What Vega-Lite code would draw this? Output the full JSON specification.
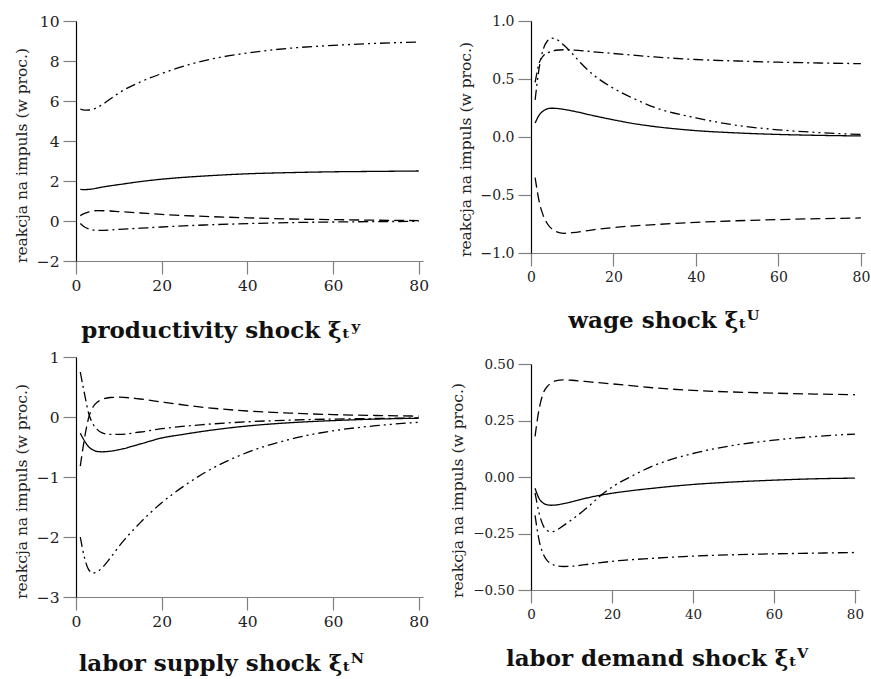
{
"$schema": "https://vega.github.io/schema/vega-lite/v6.json",
"padding": {"left": 14, "top": 14, "right": 0, "bottom": 0},
"background": "white",
"config": {
 "font": "DejaVu Serif",
 "view": {"stroke": null},
 "axis": {"grid": false, "tickColor": "#808080", "tickSize": 13, "tickWidth": 1.2, "domainWidth": 1.2, "labelFont": "DejaVu Serif", "titleFont": "DejaVu Serif", "labelColor": "#222", "titleFontWeight": "normal", "titleColor": "#222", "labelFlush": false, "labelPadding": 4},
 "axisX": {"domainColor": "#808080"},
 "axisY": {"domainColor": "#000000"},
 "title": {"font": "DejaVu Serif", "fontSize": 23, "fontWeight": "bold", "color": "#111", "orient": "bottom", "anchor": "middle", "frame": "bounds"},
 "line": {"color": "#000000", "strokeWidth": 1.3, "interpolate": "monotone"}
},
"datasets": {
 "prod": [
  {"t":1,"s":"solid","v":1.58},{"t":2,"s":"solid","v":1.57},{"t":3,"s":"solid","v":1.58},{"t":4,"s":"solid","v":1.61},{"t":6,"s":"solid","v":1.69},{"t":8,"s":"solid","v":1.76},{"t":10,"s":"solid","v":1.82},{"t":15,"s":"solid","v":1.97},{"t":20,"s":"solid","v":2.09},{"t":25,"s":"solid","v":2.18},{"t":30,"s":"solid","v":2.25},{"t":40,"s":"solid","v":2.36},{"t":50,"s":"solid","v":2.42},{"t":60,"s":"solid","v":2.46},{"t":70,"s":"solid","v":2.48},{"t":80,"s":"solid","v":2.5},
  {"t":1,"s":"dash","v":0.27},{"t":2,"s":"dash","v":0.38},{"t":3,"s":"dash","v":0.46},{"t":5,"s":"dash","v":0.52},{"t":8,"s":"dash","v":0.5},{"t":10,"s":"dash","v":0.47},{"t":15,"s":"dash","v":0.4},{"t":20,"s":"dash","v":0.33},{"t":30,"s":"dash","v":0.23},{"t":40,"s":"dash","v":0.16},{"t":50,"s":"dash","v":0.1},{"t":60,"s":"dash","v":0.07},{"t":70,"s":"dash","v":0.04},{"t":80,"s":"dash","v":0.02},
  {"t":1,"s":"dashdot","v":-0.12},{"t":2,"s":"dashdot","v":-0.3},{"t":3,"s":"dashdot","v":-0.4},{"t":5,"s":"dashdot","v":-0.47},{"t":8,"s":"dashdot","v":-0.45},{"t":10,"s":"dashdot","v":-0.42},{"t":15,"s":"dashdot","v":-0.36},{"t":20,"s":"dashdot","v":-0.3},{"t":30,"s":"dashdot","v":-0.2},{"t":40,"s":"dashdot","v":-0.13},{"t":50,"s":"dashdot","v":-0.08},{"t":60,"s":"dashdot","v":-0.05},{"t":70,"s":"dashdot","v":-0.03},{"t":80,"s":"dashdot","v":-0.02},
  {"t":1,"s":"dashdotdot","v":5.6},{"t":2,"s":"dashdotdot","v":5.54},{"t":3,"s":"dashdotdot","v":5.55},{"t":5,"s":"dashdotdot","v":5.68},{"t":8,"s":"dashdotdot","v":6.1},{"t":10,"s":"dashdotdot","v":6.4},{"t":15,"s":"dashdotdot","v":6.95},{"t":20,"s":"dashdotdot","v":7.37},{"t":25,"s":"dashdotdot","v":7.73},{"t":30,"s":"dashdotdot","v":8.02},{"t":40,"s":"dashdotdot","v":8.4},{"t":50,"s":"dashdotdot","v":8.64},{"t":60,"s":"dashdotdot","v":8.78},{"t":70,"s":"dashdotdot","v":8.88},{"t":80,"s":"dashdotdot","v":8.95}
 ],
 "wage": [
  {"t":1,"s":"solid","v":0.12},{"t":2,"s":"solid","v":0.19},{"t":3,"s":"solid","v":0.225},{"t":4,"s":"solid","v":0.243},{"t":5,"s":"solid","v":0.248},{"t":6,"s":"solid","v":0.247},{"t":8,"s":"solid","v":0.238},{"t":10,"s":"solid","v":0.225},{"t":15,"s":"solid","v":0.185},{"t":20,"s":"solid","v":0.148},{"t":25,"s":"solid","v":0.115},{"t":30,"s":"solid","v":0.09},{"t":40,"s":"solid","v":0.055},{"t":50,"s":"solid","v":0.035},{"t":60,"s":"solid","v":0.022},{"t":70,"s":"solid","v":0.014},{"t":80,"s":"solid","v":0.009},
  {"t":1,"s":"dash","v":-0.35},{"t":2,"s":"dash","v":-0.56},{"t":3,"s":"dash","v":-0.68},{"t":4,"s":"dash","v":-0.75},{"t":5,"s":"dash","v":-0.79},{"t":6,"s":"dash","v":-0.815},{"t":8,"s":"dash","v":-0.83},{"t":10,"s":"dash","v":-0.825},{"t":15,"s":"dash","v":-0.8},{"t":20,"s":"dash","v":-0.78},{"t":30,"s":"dash","v":-0.755},{"t":40,"s":"dash","v":-0.736},{"t":50,"s":"dash","v":-0.722},{"t":60,"s":"dash","v":-0.712},{"t":70,"s":"dash","v":-0.704},{"t":80,"s":"dash","v":-0.698},
  {"t":1,"s":"dashdot","v":0.47},{"t":2,"s":"dashdot","v":0.64},{"t":3,"s":"dashdot","v":0.7},{"t":4,"s":"dashdot","v":0.725},{"t":5,"s":"dashdot","v":0.74},{"t":6,"s":"dashdot","v":0.748},{"t":8,"s":"dashdot","v":0.752},{"t":10,"s":"dashdot","v":0.75},{"t":15,"s":"dashdot","v":0.735},{"t":20,"s":"dashdot","v":0.72},{"t":30,"s":"dashdot","v":0.69},{"t":40,"s":"dashdot","v":0.668},{"t":50,"s":"dashdot","v":0.655},{"t":60,"s":"dashdot","v":0.645},{"t":70,"s":"dashdot","v":0.638},{"t":80,"s":"dashdot","v":0.632},
  {"t":1,"s":"dashdotdot","v":0.32},{"t":2,"s":"dashdotdot","v":0.6},{"t":3,"s":"dashdotdot","v":0.76},{"t":4,"s":"dashdotdot","v":0.83},{"t":5,"s":"dashdotdot","v":0.852},{"t":6,"s":"dashdotdot","v":0.845},{"t":8,"s":"dashdotdot","v":0.79},{"t":10,"s":"dashdotdot","v":0.72},{"t":12,"s":"dashdotdot","v":0.64},{"t":15,"s":"dashdotdot","v":0.54},{"t":20,"s":"dashdotdot","v":0.42},{"t":25,"s":"dashdotdot","v":0.33},{"t":30,"s":"dashdotdot","v":0.255},{"t":40,"s":"dashdotdot","v":0.165},{"t":50,"s":"dashdotdot","v":0.1},{"t":60,"s":"dashdotdot","v":0.062},{"t":70,"s":"dashdotdot","v":0.038},{"t":80,"s":"dashdotdot","v":0.022}
 ],
 "supply": [
  {"t":1,"s":"solid","v":-0.27},{"t":2,"s":"solid","v":-0.4},{"t":3,"s":"solid","v":-0.5},{"t":4,"s":"solid","v":-0.55},{"t":5,"s":"solid","v":-0.575},{"t":6,"s":"solid","v":-0.58},{"t":8,"s":"solid","v":-0.57},{"t":10,"s":"solid","v":-0.545},{"t":15,"s":"solid","v":-0.45},{"t":20,"s":"solid","v":-0.35},{"t":25,"s":"solid","v":-0.29},{"t":30,"s":"solid","v":-0.235},{"t":40,"s":"solid","v":-0.15},{"t":50,"s":"solid","v":-0.095},{"t":60,"s":"solid","v":-0.06},{"t":70,"s":"solid","v":-0.035},{"t":80,"s":"solid","v":-0.02},
  {"t":1,"s":"dash","v":-0.82},{"t":2,"s":"dash","v":-0.35},{"t":3,"s":"dash","v":0.0},{"t":4,"s":"dash","v":0.17},{"t":5,"s":"dash","v":0.25},{"t":6,"s":"dash","v":0.29},{"t":8,"s":"dash","v":0.325},{"t":10,"s":"dash","v":0.33},{"t":15,"s":"dash","v":0.3},{"t":20,"s":"dash","v":0.25},{"t":30,"s":"dash","v":0.16},{"t":40,"s":"dash","v":0.1},{"t":50,"s":"dash","v":0.065},{"t":60,"s":"dash","v":0.04},{"t":70,"s":"dash","v":0.025},{"t":80,"s":"dash","v":0.015},
  {"t":1,"s":"dashdot","v":0.75},{"t":2,"s":"dashdot","v":0.38},{"t":3,"s":"dashdot","v":0.05},{"t":4,"s":"dashdot","v":-0.12},{"t":5,"s":"dashdot","v":-0.21},{"t":6,"s":"dashdot","v":-0.26},{"t":8,"s":"dashdot","v":-0.29},{"t":10,"s":"dashdot","v":-0.29},{"t":15,"s":"dashdot","v":-0.25},{"t":20,"s":"dashdot","v":-0.195},{"t":30,"s":"dashdot","v":-0.125},{"t":40,"s":"dashdot","v":-0.08},{"t":50,"s":"dashdot","v":-0.052},{"t":60,"s":"dashdot","v":-0.035},{"t":70,"s":"dashdot","v":-0.025},{"t":80,"s":"dashdot","v":-0.015},
  {"t":1,"s":"dashdotdot","v":-2.0},{"t":2,"s":"dashdotdot","v":-2.35},{"t":3,"s":"dashdotdot","v":-2.55},{"t":4,"s":"dashdotdot","v":-2.6},{"t":5,"s":"dashdotdot","v":-2.58},{"t":6,"s":"dashdotdot","v":-2.52},{"t":8,"s":"dashdotdot","v":-2.35},{"t":10,"s":"dashdotdot","v":-2.16},{"t":15,"s":"dashdotdot","v":-1.76},{"t":20,"s":"dashdotdot","v":-1.43},{"t":25,"s":"dashdotdot","v":-1.16},{"t":30,"s":"dashdotdot","v":-0.93},{"t":40,"s":"dashdotdot","v":-0.59},{"t":50,"s":"dashdotdot","v":-0.37},{"t":60,"s":"dashdotdot","v":-0.23},{"t":70,"s":"dashdotdot","v":-0.145},{"t":80,"s":"dashdotdot","v":-0.088}
 ],
 "demand": [
  {"t":1,"s":"solid","v":-0.05},{"t":2,"s":"solid","v":-0.095},{"t":3,"s":"solid","v":-0.115},{"t":4,"s":"solid","v":-0.123},{"t":5,"s":"solid","v":-0.125},{"t":6,"s":"solid","v":-0.124},{"t":8,"s":"solid","v":-0.118},{"t":10,"s":"solid","v":-0.11},{"t":15,"s":"solid","v":-0.088},{"t":20,"s":"solid","v":-0.072},{"t":25,"s":"solid","v":-0.06},{"t":30,"s":"solid","v":-0.05},{"t":40,"s":"solid","v":-0.033},{"t":50,"s":"solid","v":-0.022},{"t":60,"s":"solid","v":-0.014},{"t":70,"s":"solid","v":-0.008},{"t":80,"s":"solid","v":-0.005},
  {"t":1,"s":"dash","v":0.18},{"t":2,"s":"dash","v":0.3},{"t":3,"s":"dash","v":0.37},{"t":4,"s":"dash","v":0.4},{"t":5,"s":"dash","v":0.415},{"t":6,"s":"dash","v":0.425},{"t":8,"s":"dash","v":0.43},{"t":10,"s":"dash","v":0.428},{"t":15,"s":"dash","v":0.42},{"t":20,"s":"dash","v":0.412},{"t":30,"s":"dash","v":0.395},{"t":40,"s":"dash","v":0.383},{"t":50,"s":"dash","v":0.376},{"t":60,"s":"dash","v":0.371},{"t":70,"s":"dash","v":0.367},{"t":80,"s":"dash","v":0.364},
  {"t":1,"s":"dashdot","v":-0.17},{"t":2,"s":"dashdot","v":-0.28},{"t":3,"s":"dashdot","v":-0.34},{"t":4,"s":"dashdot","v":-0.37},{"t":5,"s":"dashdot","v":-0.383},{"t":6,"s":"dashdot","v":-0.392},{"t":8,"s":"dashdot","v":-0.396},{"t":10,"s":"dashdot","v":-0.395},{"t":15,"s":"dashdot","v":-0.384},{"t":20,"s":"dashdot","v":-0.373},{"t":30,"s":"dashdot","v":-0.36},{"t":40,"s":"dashdot","v":-0.35},{"t":50,"s":"dashdot","v":-0.344},{"t":60,"s":"dashdot","v":-0.34},{"t":70,"s":"dashdot","v":-0.337},{"t":80,"s":"dashdot","v":-0.334},
  {"t":1,"s":"dashdotdot","v":-0.07},{"t":2,"s":"dashdotdot","v":-0.16},{"t":3,"s":"dashdotdot","v":-0.215},{"t":4,"s":"dashdotdot","v":-0.237},{"t":5,"s":"dashdotdot","v":-0.243},{"t":6,"s":"dashdotdot","v":-0.238},{"t":8,"s":"dashdotdot","v":-0.215},{"t":10,"s":"dashdotdot","v":-0.19},{"t":15,"s":"dashdotdot","v":-0.118},{"t":17,"s":"dashdotdot","v":-0.085},{"t":20,"s":"dashdotdot","v":-0.045},{"t":25,"s":"dashdotdot","v":0.005},{"t":30,"s":"dashdotdot","v":0.048},{"t":40,"s":"dashdotdot","v":0.104},{"t":50,"s":"dashdotdot","v":0.14},{"t":60,"s":"dashdotdot","v":0.163},{"t":70,"s":"dashdotdot","v":0.179},{"t":80,"s":"dashdotdot","v":0.19}
 ]
},
"spacing": 21,
"hconcat": [
 {
  "columns": 1,
  "align": "none",
  "spacing": 7,
  "concat": [
   {
    "width": 347, "height": 240,
    "data": {"name": "prod"},
    "mark": {"type": "line"},
    "encoding": {
     "x": {"field": "t", "type": "quantitative", "scale": {"domain": [0, 81], "nice": false}, "axis": {"values": [0, 20, 40, 60, 80], "title": null, "labelFontSize": 15.5}},
     "y": {"field": "v", "type": "quantitative", "scale": {"domain": [-2, 10], "nice": false, "zero": false}, "axis": {"values": [-2, 0, 2, 4, 6, 8, 10], "title": "reakcja na impuls (w proc.)", "labelFontSize": 15.5, "titleFontSize": 15.5, "titlePadding": 7, "titleY": 134}},
     "detail": {"field": "s"},
     "strokeDash": {"field": "s", "type": "nominal", "legend": null, "scale": {"domain": ["solid", "dash", "dashdot", "dashdotdot"], "range": [[1, 0], [10, 5], [10, 4, 2, 4], [10, 4, 2, 4, 2, 4]]}}
    },
    "title": {"text": "productivity shock ξₜʸ", "offset": 26}
   },
   {
    "width": 347, "height": 240,
    "data": {"name": "supply"},
    "mark": {"type": "line"},
    "encoding": {
     "x": {"field": "t", "type": "quantitative", "scale": {"domain": [0, 81], "nice": false}, "axis": {"values": [0, 20, 40, 60, 80], "title": null, "labelFontSize": 15.5}},
     "y": {"field": "v", "type": "quantitative", "scale": {"domain": [-3, 1], "nice": false, "zero": false}, "axis": {"values": [-3, -2, -1, 0, 1], "title": "reakcja na impuls (w proc.)", "labelFontSize": 15.5, "titleFontSize": 15.5, "titlePadding": 7, "titleY": 134}},
     "detail": {"field": "s"},
     "strokeDash": {"field": "s", "type": "nominal", "legend": null, "scale": {"domain": ["solid", "dash", "dashdot", "dashdotdot"], "range": [[1, 0], [10, 5], [10, 4, 2, 4], [10, 4, 2, 4, 2, 4]]}}
    },
    "title": {"text": "labor supply shock ξₜᴺ", "offset": 23}
   }
  ]
 },
 {
  "columns": 1,
  "align": "none",
  "spacing": 24,
  "concat": [
   {
    "width": 334, "height": 232,
    "data": {"name": "wage"},
    "mark": {"type": "line"},
    "encoding": {
     "x": {"field": "t", "type": "quantitative", "scale": {"domain": [0, 81], "nice": false}, "axis": {"values": [0, 20, 40, 60, 80], "title": null, "labelFontSize": 14}},
     "y": {"field": "v", "type": "quantitative", "scale": {"domain": [-1, 1], "nice": false, "zero": false}, "axis": {"values": [-1, -0.5, 0, 0.5, 1], "format": ".1f", "title": "reakcja na impuls (w proc.)", "labelFontSize": 14, "titleFontSize": 15.5, "titlePadding": 7, "titleY": 128}},
     "detail": {"field": "s"},
     "strokeDash": {"field": "s", "type": "nominal", "legend": null, "scale": {"domain": ["solid", "dash", "dashdot", "dashdotdot"], "range": [[1, 0], [10, 5], [10, 4, 2, 4], [10, 4, 2, 4, 2, 4]]}}
    },
    "title": {"text": "wage shock ξₜᵂ", "offset": 26}
   },
   {
    "width": 328, "height": 226,
    "data": {"name": "demand"},
    "mark": {"type": "line"},
    "encoding": {
     "x": {"field": "t", "type": "quantitative", "scale": {"domain": [0, 81], "nice": false}, "axis": {"values": [0, 20, 40, 60, 80], "title": null, "labelFontSize": 13.5}},
     "y": {"field": "v", "type": "quantitative", "scale": {"domain": [-0.5, 0.5], "nice": false, "zero": false}, "axis": {"values": [-0.5, -0.25, 0, 0.25, 0.5], "format": ".2f", "title": "reakcja na impuls (w proc.)", "labelFontSize": 13.5, "titleFontSize": 15.5, "titlePadding": 7, "titleY": 126}},
     "detail": {"field": "s"},
     "strokeDash": {"field": "s", "type": "nominal", "legend": null, "scale": {"domain": ["solid", "dash", "dashdot", "dashdotdot"], "range": [[1, 0], [10, 5], [10, 4, 2, 4], [10, 4, 2, 4, 2, 4]]}}
    },
    "title": {"text": "labor demand shock ξₜⱽ", "offset": 27}
   }
  ]
 }
]
}
